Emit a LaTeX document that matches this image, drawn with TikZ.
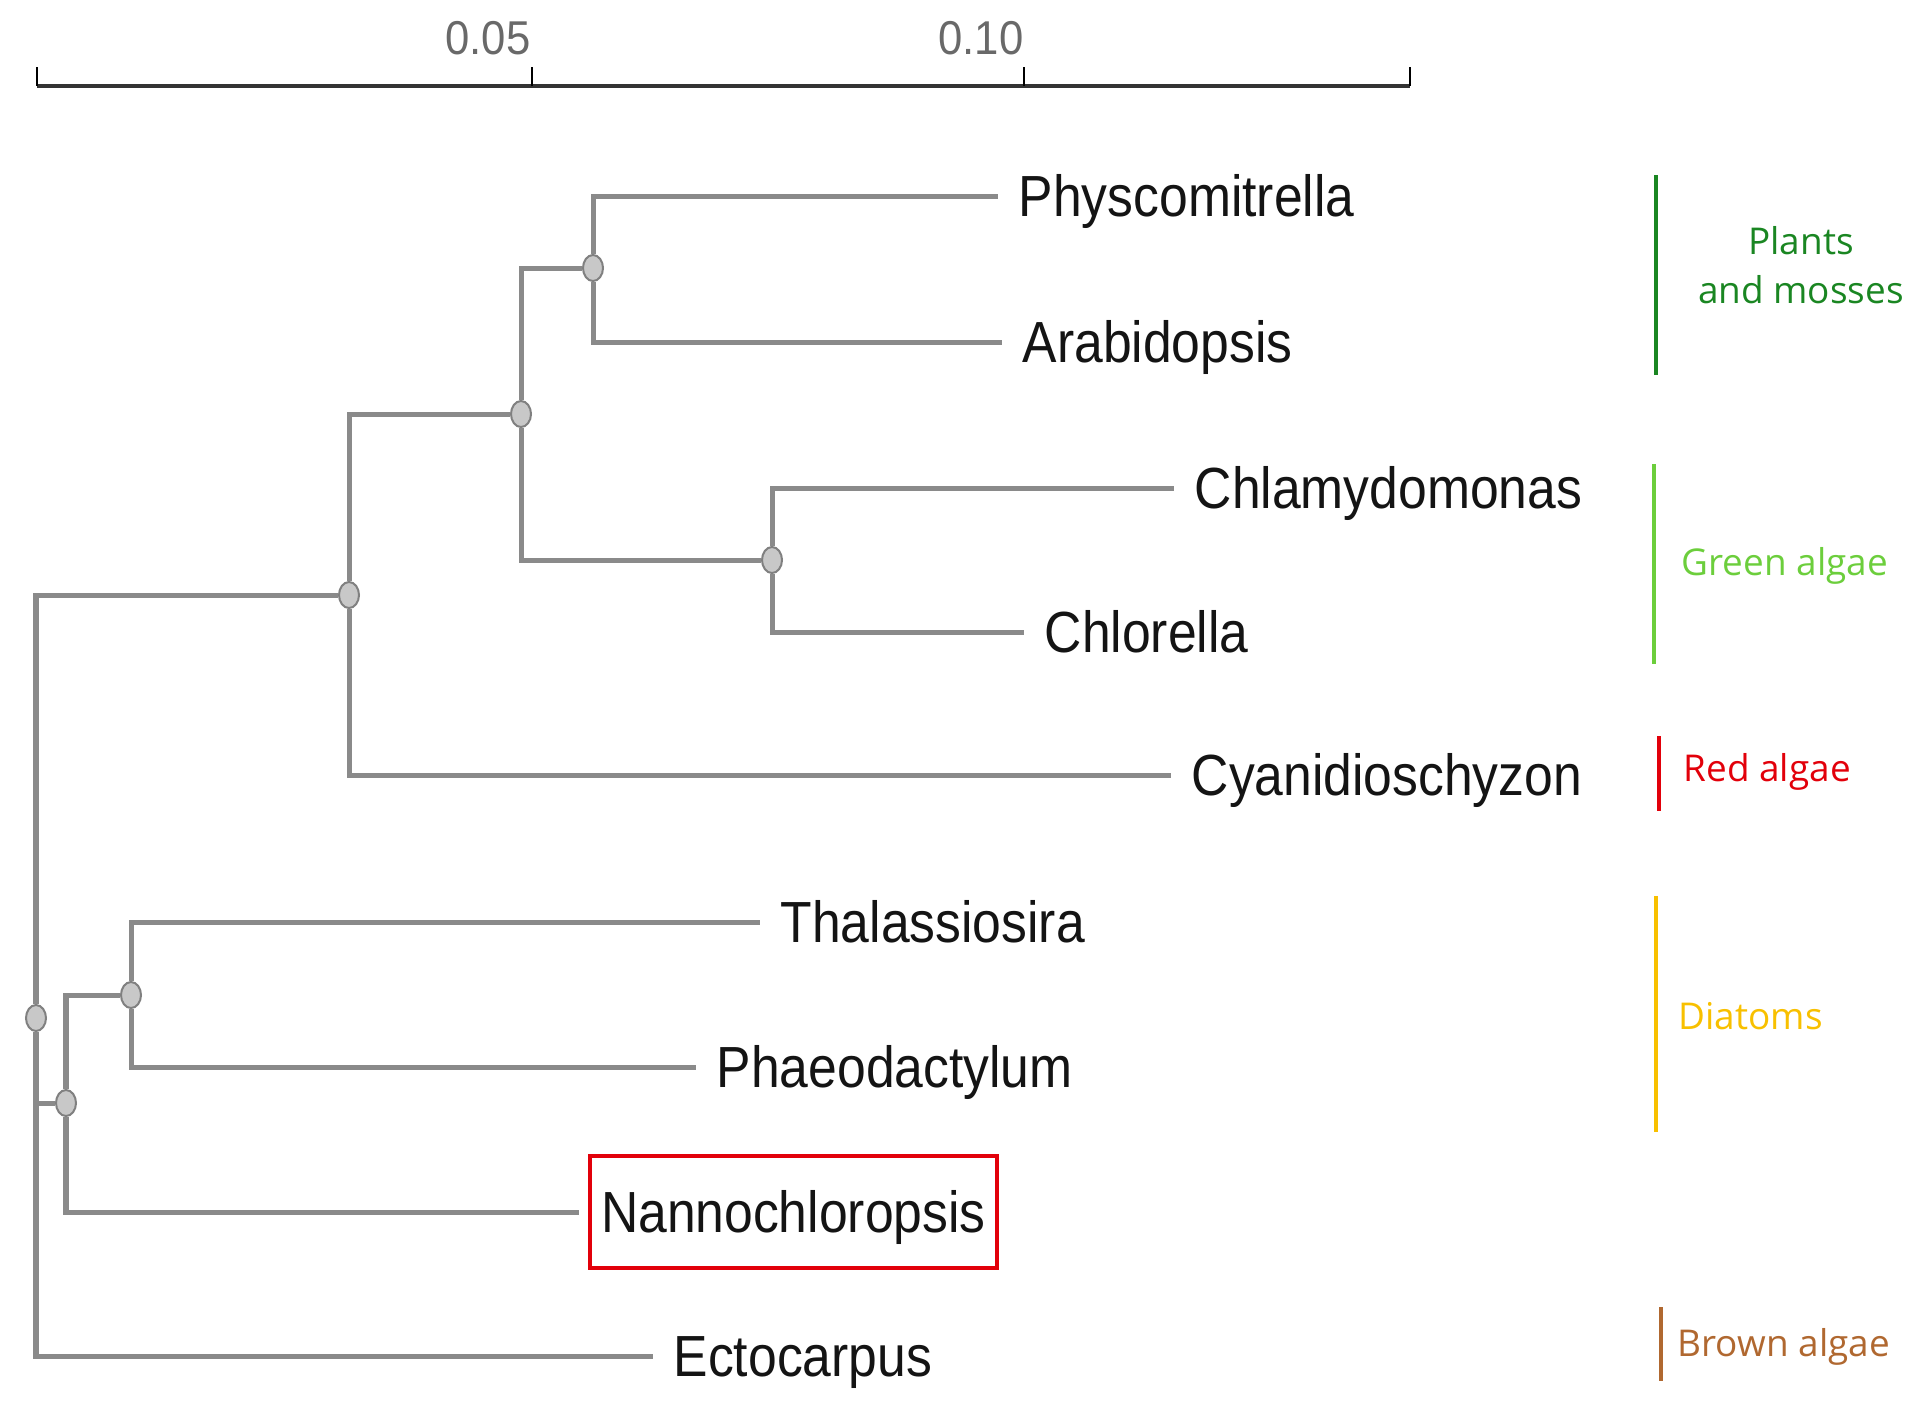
\documentclass[tikz,border=0pt]{standalone}
\usepackage{fontspec}
\setmainfont{Liberation Sans}
\newfontfamily\taxonfont[FakeStretch=0.89]{Liberation Sans}
\newfontfamily\scalefont[FakeStretch=0.92]{Liberation Sans}
\newfontfamily\groupfont{Open Sans}
\usepackage{tikz}
\usetikzlibrary{positioning}
\usetikzlibrary{shapes.geometric}

\definecolor{branchgray}{RGB}{138,138,138}
\definecolor{splitgray}{RGB}{200,200,200}
\definecolor{scalegray}{RGB}{105,105,105}
\definecolor{plantgreen}{RGB}{26,134,34}
\definecolor{algagreen}{RGB}{108,206,60}
\definecolor{algared}{RGB}{226,0,10}
\definecolor{diatomgold}{RGB}{248,192,0}
\definecolor{algabrown}{RGB}{176,104,48}

\begin{document}
\begin{tikzpicture}[x=0.01cm,y=-0.01cm,
	branch/.style={draw=branchgray,line width=0.05cm},
	split node/.style={ellipse,draw=gray,fill=splitgray,line width=0.02cm,minimum width=0.2cm,minimum height=0.26cm,inner sep=0pt},
	taxon/.style={anchor=west,inner xsep=0.2cm,inner ysep=0pt,text height=15.3pt,text depth=3.5pt,
		font=\taxonfont\fontsize{16.5}{18}\selectfont,text=black!92},
	group/.style={inner sep=0pt,text height=9.8pt,text depth=2.3pt,font=\groupfont\fontsize{10.5}{13.9}\selectfont},
	group bar/.style={line width=0.04cm},
	scale label/.style={anchor=east,inner sep=0pt,text=scalegray,font=\scalefont\fontsize{13.5}{14}\selectfont}]

	\useasboundingbox (0,0) rectangle (1921,1408);

	\draw[line width=0.04cm,draw=black!80] (37,86) -- (1410,86);
	\foreach \t in {37,532,1024,1410}
		\draw[line width=0.025cm] (\t,67) -- (\t,86);
	\node[scale label] (lab05) at (531,38) {0.05};
	\node[scale label] (lab10) at (1024,38) {0.10};

	\node[split node] (root) at (36,1018) {};
	\node[split node] (n1) at (349,595) {};
	\node[split node] (n2) at (521,414) {};
	\node[split node] (n3) at (593,268) {};
	\node[split node] (n4) at (772,560) {};
	\node[split node] (n5) at (66,1103) {};
	\node[split node] (n6) at (131,995) {};

	\node[taxon] (phys) at (998,196) {Physcomitrella};
	\node[taxon] (arab) at (1002,342) {Arabidopsis};
	\node[taxon] (chlam) at (1174,488) {Chlamydomonas};
	\node[taxon] (chlor) at (1024,632) {Chlorella};
	\node[taxon] (cyan) at (1171,775) {Cyanidioschyzon};
	\node[taxon] (thal) at (760,922) {Thalassiosira};
	\node[taxon] (phaeo) at (696,1067) {Phaeodactylum};
	\node[taxon,draw=algared,line width=0.04cm,inner xsep=0.11cm,minimum height=1.12cm] (nanno) at (588,1212) {Nannochloropsis};
	\node[taxon] (ecto) at (653,1356) {Ectocarpus};

	\draw[branch] (root) |- (n1);
	\draw[branch] (root) |- (n5);
	\draw[branch] (root) |- (ecto.west);
	\draw[branch] (n1) |- (n2);
	\draw[branch] (n1) |- (cyan.west);
	\draw[branch] (n2) |- (n3);
	\draw[branch] (n2) |- (n4);
	\draw[branch] (n3) |- (phys.west);
	\draw[branch] (n3) |- (arab.west);
	\draw[branch] (n4) |- (chlam.west);
	\draw[branch] (n4) |- (chlor.west);
	\draw[branch] (n5) |- (n6);
	\draw[branch,shorten >=0.09cm] (n5) |- (nanno.west);
	\draw[branch] (n6) |- (thal.west);
	\draw[branch] (n6) |- (phaeo.west);

	\draw[group bar,plantgreen] (1656,175) -- (1656,375);
	\node[group,text=plantgreen,align=center] (plants) at (1801,290) {Plants\\and mosses};
	\draw[group bar,algagreen] (1654,464) -- (1654,664);
	\node[group,text=algagreen,anchor=west] (greens) at (1681,562) {Green algae};
	\draw[group bar,algared] (1659,736) -- (1659,811);
	\node[group,text=algared,anchor=west] (reds) at (1683,768) {Red algae};
	\draw[group bar,diatomgold] (1656,896) -- (1656,1132);
	\node[group,text=diatomgold,anchor=west] (diatoms) at (1678,1016) {Diatoms};
	\draw[group bar,algabrown] (1661,1307) -- (1661,1381);
	\node[group,text=algabrown,anchor=west] (browns) at (1677,1343) {Brown algae};

\end{tikzpicture}
\end{document}
